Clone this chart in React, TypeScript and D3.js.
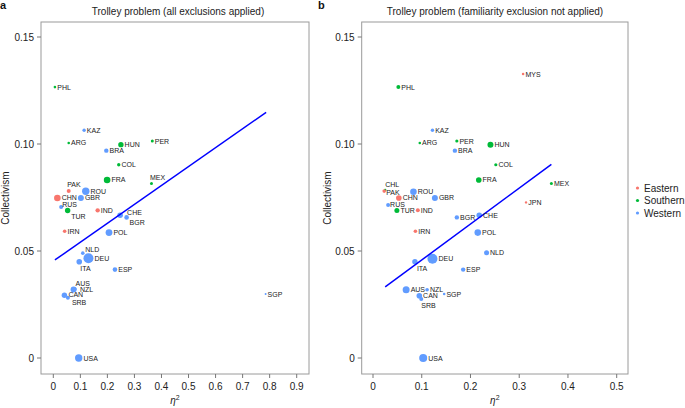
import React from "react";
import * as d3 from "d3";

// ---------- Data ----------
const regions = ["Eastern", "Southern", "Western"];
const regionColors = ["#F8766D", "#00BA38", "#619CFF"];

// Panel a: all exclusions applied
const aCodes = ["PHL","KAZ","ARG","PER","HUN","BRA","COL","FRA","MEX","PAK","ROU","CHN","GBR","RUS","TUR","IND","CHE","BGR","IRN","POL","NLD","DEU","ITA","ESP","NZL","AUS","CAN","SRB","SGP","USA"];
const aRegion = ["Southern","Western","Southern","Southern","Southern","Western","Southern","Southern","Southern","Eastern","Western","Eastern","Western","Western","Southern","Eastern","Western","Western","Eastern","Western","Western","Western","Western","Western","Western","Western","Western","Western","Western","Western"];
const aEta = [0.006,0.114,0.057,0.366,0.250,0.196,0.242,0.199,0.363,0.057,0.120,0.015,0.102,0.029,0.053,0.164,0.247,0.271,0.042,0.206,0.109,0.130,0.096,0.228,0.080,0.075,0.041,0.054,0.785,0.094];
const aColl = [0.1266,0.1064,0.1005,0.1014,0.0997,0.0969,0.0903,0.0832,0.0815,0.0780,0.0779,0.0748,0.0748,0.0706,0.0689,0.0690,0.0667,0.0657,0.0592,0.0586,0.0490,0.0466,0.0450,0.0413,0.0322,0.0320,0.0293,0.0282,0.0299,0.0000];
const aSize = [1.3,1.7,1.3,1.5,2.7,2.2,1.7,3.3,1.5,2.0,3.7,3.3,3.0,2.0,2.7,2.2,2.8,2.3,1.8,3.4,1.8,5.0,2.8,2.3,1.8,3.0,2.7,2.0,1.0,3.7];
const aLineEta = [0.006, 0.787];
const aLineColl = [0.0458, 0.1148];

// Panel b: familiarity exclusion not applied
const bCodes = ["MYS","PHL","KAZ","ARG","PER","HUN","BRA","COL","FRA","MEX","CHL","PAK","ROU","CHN","GBR","JPN","RUS","TUR","IND","BGR","CHE","IRN","POL","NLD","DEU","ITA","ESP","AUS","NZL","SGP","CAN","SRB","USA"];
const bRegion = ["Eastern","Southern","Western","Southern","Southern","Southern","Western","Southern","Southern","Southern","Southern","Eastern","Western","Eastern","Western","Eastern","Western","Southern","Eastern","Western","Western","Eastern","Western","Western","Western","Western","Western","Western","Western","Western","Western","Western","Western"];
const bEta = [0.308,0.052,0.122,0.096,0.172,0.241,0.168,0.252,0.217,0.366,0.025,0.023,0.083,0.053,0.127,0.314,0.031,0.049,0.092,0.172,0.218,0.087,0.215,0.233,0.122,0.086,0.185,0.068,0.111,0.146,0.095,0.099,0.103];
const bColl = [0.1327,0.1266,0.1064,0.1005,0.1014,0.0997,0.0969,0.0903,0.0832,0.0815,0.0785,0.0780,0.0777,0.0748,0.0748,0.0727,0.0715,0.0689,0.0690,0.0657,0.0667,0.0592,0.0586,0.0492,0.0464,0.0450,0.0413,0.0319,0.0319,0.0299,0.0291,0.0276,0.0000];
const bSize = [1.3,2.0,1.7,1.3,1.6,3.0,2.2,1.6,2.8,1.5,1.2,1.8,3.3,2.8,3.0,1.2,2.0,2.5,2.0,2.2,2.8,1.8,3.3,2.5,5.0,2.7,2.2,3.5,1.8,1.3,2.8,2.0,4.0];
const bLineEta = [0.025, 0.366];
const bLineColl = [0.0332, 0.0905];

const aXTicks = [0, 0.1, 0.2, 0.3, 0.4, 0.5, 0.6, 0.7, 0.8, 0.9];
const bXTicks = [0, 0.1, 0.2, 0.3, 0.4, 0.5];
const yTicks = [0, 0.05, 0.1, 0.15];
const yTickLabels = ["0", "0.05", "0.10", "0.15"];

// label nudges (layout only)
const aNudge: Record<string, [number, number]> = {
  PAK: [-1.5, -4.5], RUS: [1, 0], TUR: [3.5, 8], CHE: [7, 0], BGR: [3, 8],
  NLD: [2.5, -1], ITA: [1, 9], MEX: [-1.5, -3.5], AUS: [2, -3.5], NZL: [5, 3],
  CAN: [4, 1.5], SRB: [4, 7.5],
};
const bNudge: Record<string, [number, number]> = {
  CHL: [0, -3], PAK: [2, 4], ITA: [2, 9], SRB: [0, 9], RUS: [2, 2],
};

const FONT = "'Liberation Sans', Arial, Helvetica, sans-serif";

type PanelProps = {
  codes: string[]; region: string[]; eta: number[]; coll: number[]; size: number[];
  lineEta: number[]; lineColl: number[]; xTicks: number[];
  x0: number; x1: number; xr0: number; xr1: number; xMax: number;
  title: string; titleX: number; tag: string; tagX: number; yLabX: number;
  nudge: Record<string, [number, number]>;
};

const top = 22, bottom = 374;
const yScale = d3.scaleLinear().domain([0, 0.15]).range([358, 37]);

function Panel(p: PanelProps) {
  const xs = d3.scaleLinear().domain([0, p.xMax]).range([p.xr0, p.xr1]);
  const color = d3.scaleOrdinal<string, string>().domain(regions).range(regionColors);
  const line = d3.line<number>().x((d) => xs(p.lineEta[d])).y((d) => yScale(p.lineColl[d]));
  const midX = (p.x0 + p.x1) / 2;
  const midY = (top + bottom) / 2;
  return (
    <g fontFamily={FONT}>
      <text x={p.tagX} y={9} fontSize={11} fontWeight="bold" fill="#111">{p.tag}</text>
      <text x={p.titleX} y={15} fontSize={10} textAnchor="middle" fill="#222">{p.title}</text>
      <rect x={p.x0} y={top} width={p.x1 - p.x0} height={bottom - top} fill="none" stroke="#9a9a9a" strokeWidth={1} />
      {yTicks.map((t, i) => (
        <g key={"y" + i}>
          <line x1={p.x0 - 4} x2={p.x0} y1={yScale(t)} y2={yScale(t)} stroke="#777" />
          <text x={p.x0 - 7} y={yScale(t) + 3.5} fontSize={10} textAnchor="end" fill="#222">{yTickLabels[i]}</text>
        </g>
      ))}
      {p.xTicks.map((t, i) => (
        <g key={"x" + i}>
          <line x1={xs(t)} x2={xs(t)} y1={bottom} y2={bottom + 4} stroke="#777" />
          <text x={xs(t)} y={bottom + 16} fontSize={10} textAnchor="middle" fill="#222">{String(t)}</text>
        </g>
      ))}
      <text transform={`translate(${p.yLabX},${midY}) rotate(-90)`} fontSize={10} textAnchor="middle" fill="#222">Collectivism</text>
      <text x={midX} y={404} fontSize={10} textAnchor="middle" fill="#222" fontStyle="italic">
        η<tspan dy={-4} fontSize={7} fontStyle="normal">2</tspan>
      </text>
      {p.codes.map((c, i) => (
        <circle key={"c" + c} cx={xs(p.eta[i])} cy={yScale(p.coll[i])} r={p.size[i]} fill={color(p.region[i])} />
      ))}
      <path d={line([0, 1]) || ""} stroke="#0000FF" strokeWidth={1.5} fill="none" />
      {p.codes.map((c, i) => {
        const n = p.nudge[c] || [p.size[i] + 1, 2.5];
        return (
          <text key={"t" + c} x={xs(p.eta[i]) + n[0]} y={yScale(p.coll[i]) + n[1]} fontSize={7} fill="#222">{c}</text>
        );
      })}
    </g>
  );
}

export default function App() {
  return (
    <svg width={685} height={408} style={{ position: "absolute", left: 0, top: 0, background: "#fff" }}>
      <Panel codes={aCodes} region={aRegion} eta={aEta} coll={aColl} size={aSize}
        lineEta={aLineEta} lineColl={aLineColl} xTicks={aXTicks}
        x0={41} x1={309} xr0={53.3} xr1={296.7} xMax={0.9}
        title="Trolley problem (all exclusions applied)" titleX={178} tag="a" tagX={0} yLabX={9}
        nudge={aNudge} />
      <Panel codes={bCodes} region={bRegion} eta={bEta} coll={bColl} size={bSize}
        lineEta={bLineEta} lineColl={bLineColl} xTicks={bXTicks}
        x0={361.7} x1={628} xr0={373} xr1={616.7} xMax={0.5}
        title="Trolley problem (familiarity exclusion not applied)" titleX={495} tag="b" tagX={318} yLabX={331}
        nudge={bNudge} />
      <g fontFamily={FONT}>
        {regions.map((r, i) => (
          <g key={r}>
            <circle cx={637.5} cy={188 + i * 12.5} r={1.6} fill={regionColors[i]} />
            <text x={644} y={191.5 + i * 12.5} fontSize={10} fill="#222">{r}</text>
          </g>
        ))}
      </g>
    </svg>
  );
}
